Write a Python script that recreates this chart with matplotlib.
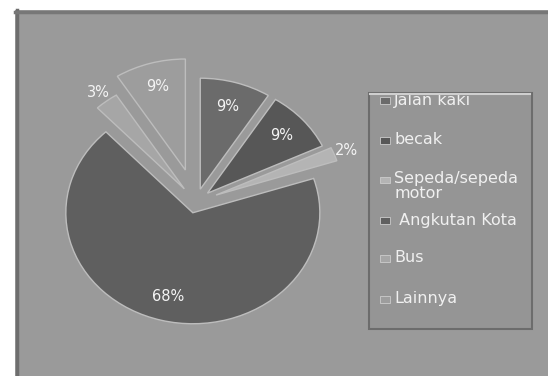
import numpy as np
import matplotlib
matplotlib.use("Agg")
import matplotlib.pyplot as plt
from matplotlib.patches import Rectangle

# moda transportasi dan persentasenya
kategori = ["Jalan kaki", "becak", "Sepeda/sepeda\nmotor", " Angkutan Kota", "Bus", "Lainnya"]
persen = [9, 9, 2, 68, 3, 9]
warna = ["#6b6b6b", "#575757", "#b4b4b4", "#5f5f5f", "#a6a6a6", "#9d9d9d"]
explode = [0.12, 0.12, 0.17, 0.10, 0.15, 0.30]
label_luar = [False, False, True, False, True, False]

W, H = 548, 376
fig = plt.figure(figsize=(W / 100, H / 100), dpi=100, facecolor="white")


def fx(px):
    return px / W


def fy(py):
    return 1 - py / H


# bidang abu-abu dengan garis tepi kiri dan atas
fig.add_artist(Rectangle((fx(15), 0), 1 - fx(15), fy(10), transform=fig.transFigure,
                         facecolor="#9a9a9a", edgecolor="none", zorder=-5))
fig.add_artist(plt.Line2D([fx(16.5), fx(16.5)], [0, fy(10)], color="#6e6e6e", lw=2.5, zorder=-4))
fig.add_artist(plt.Line2D([fx(15), 1], [fy(11.5), fy(11.5)], color="#777777", lw=2.5, zorder=-4))

# pie dibuat sedikit melebar (rx > ry)
cx, cy, rx, ry = 196, 202, 127, 111
lim = 1.5
ax = fig.add_axes([fx(cx - lim * rx), fy(cy + lim * ry), 2 * lim * rx / W, 2 * lim * ry / H])
ax.set_zorder(2)
ax.patch.set_visible(False)
wedges, _ = ax.pie(persen, colors=warna, explode=explode, startangle=90, counterclock=False,
                   wedgeprops=dict(edgecolor="#bdbdbd", linewidth=1.0))
ax.set_aspect("auto")
ax.set_xlim(-lim, lim)
ax.set_ylim(-lim, lim)
ax.axis("off")

for w, p, luar in zip(wedges, persen, label_luar):
    mid = np.deg2rad((w.theta1 + w.theta2) / 2)
    d = 1.10 if luar else 0.78
    x0, y0 = w.center
    ax.text(x0 + d * np.cos(mid), y0 + d * np.sin(mid), f"{p}%", ha="center", va="center",
            color="#f4f4f4", fontsize=10.5)

# kotak legenda
fig.add_artist(Rectangle((fx(369), fy(329)), fx(532) - fx(369), fy(93) - fy(329),
                         transform=fig.transFigure, facecolor="#959595",
                         edgecolor="#6c6c6c", linewidth=1.5, zorder=3))
fig.add_artist(plt.Line2D([fx(370), fx(530)], [fy(94), fy(94)], color="#cfcfcf", lw=1.5, zorder=5))

baris_y = [100, 140, 180, 220, 258, 299]
for nama, c, yy in zip(kategori, warna, baris_y):
    fig.add_artist(Rectangle((fx(380), fy(yy + 3.5)), 10 / W, 7 / H, transform=fig.transFigure,
                             facecolor=c, edgecolor="#cccccc", linewidth=0.6, zorder=4))
    if "\n" in nama:
        fig.text(fx(394), fy(yy - 9), nama, ha="left", va="top", color="#f0f0f0",
                 fontsize=11.5, linespacing=1.0, zorder=4)
    else:
        fig.text(fx(394), fy(yy), nama, ha="left", va="center", color="#f0f0f0",
                 fontsize=11.5, zorder=4)

fig.savefig("out.png", dpi=100, facecolor="white")
